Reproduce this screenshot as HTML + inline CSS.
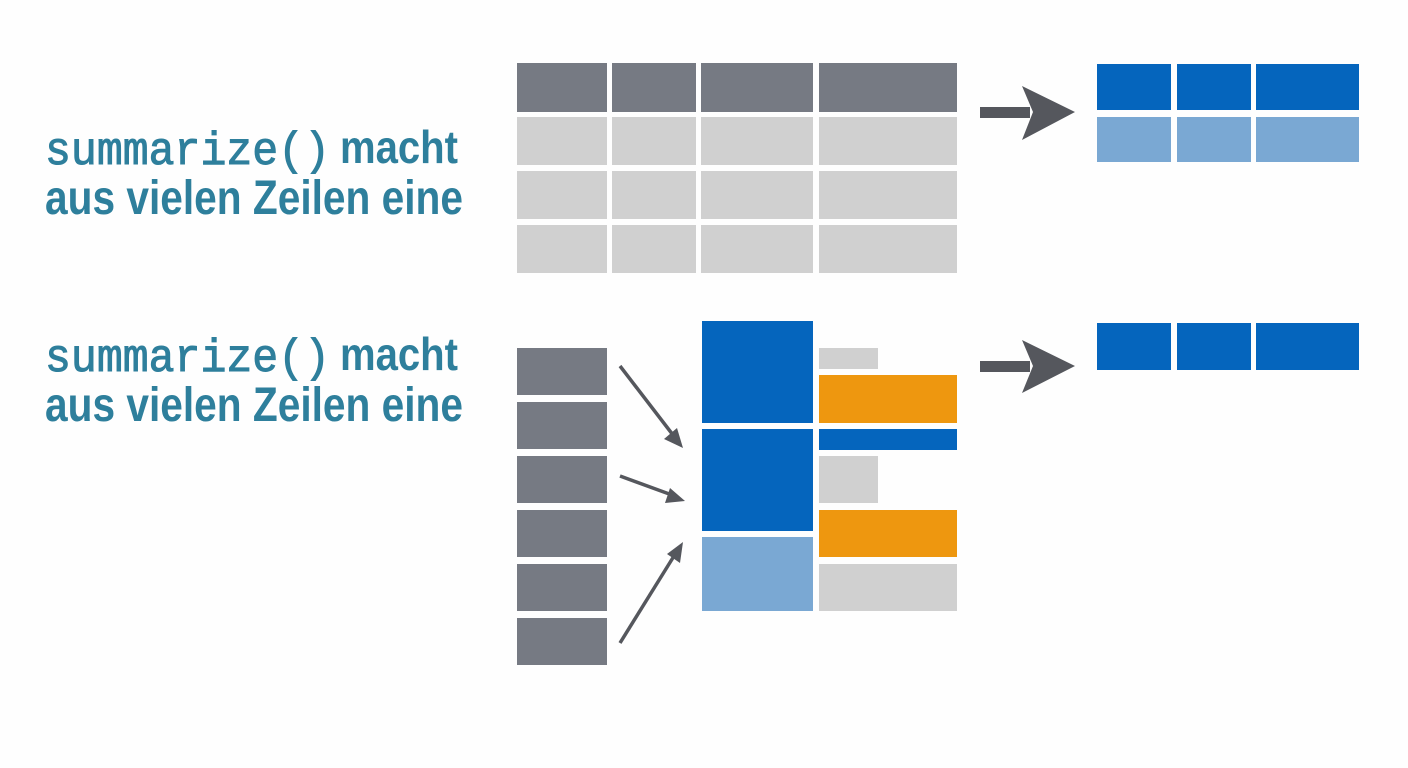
<!DOCTYPE html>
<html><head><meta charset="utf-8"><style>html,body{margin:0;padding:0;background:#fff}svg{display:block}</style></head>
<body>
<svg width="1408" height="768" viewBox="0 0 1408 768" xmlns="http://www.w3.org/2000/svg">
<rect width="1408" height="768" fill="#fefefe"/>
<g fill="#2e7f9c">
<text x="45" y="164" font-family="Liberation Mono, monospace" font-size="46" stroke="#2e7f9c" stroke-width="1" textLength="285" lengthAdjust="spacingAndGlyphs">summarize()</text>
<text x="340" y="163" font-family="Liberation Sans, sans-serif" font-weight="bold" font-size="46" textLength="118" lengthAdjust="spacingAndGlyphs">macht</text>
<text x="45" y="214" font-family="Liberation Sans, sans-serif" font-weight="bold" font-size="48" textLength="418" lengthAdjust="spacingAndGlyphs">aus vielen Zeilen eine</text>
<text x="45" y="371" font-family="Liberation Mono, monospace" font-size="46" stroke="#2e7f9c" stroke-width="1" textLength="285" lengthAdjust="spacingAndGlyphs">summarize()</text>
<text x="340" y="370" font-family="Liberation Sans, sans-serif" font-weight="bold" font-size="46" textLength="118" lengthAdjust="spacingAndGlyphs">macht</text>
<text x="45" y="421" font-family="Liberation Sans, sans-serif" font-weight="bold" font-size="48" textLength="418" lengthAdjust="spacingAndGlyphs">aus vielen Zeilen eine</text>
</g>
<g fill="#767a83">
<rect x="517" y="63" width="90" height="49"/><rect x="612" y="63" width="84" height="49"/><rect x="701" y="63" width="112" height="49"/><rect x="819" y="63" width="138" height="49"/>
</g>
<g fill="#d0d0d0">
<rect x="517" y="117" width="90" height="48"/><rect x="612" y="117" width="84" height="48"/><rect x="701" y="117" width="112" height="48"/><rect x="819" y="117" width="138" height="48"/>
<rect x="517" y="171" width="90" height="48"/><rect x="612" y="171" width="84" height="48"/><rect x="701" y="171" width="112" height="48"/><rect x="819" y="171" width="138" height="48"/>
<rect x="517" y="225" width="90" height="48"/><rect x="612" y="225" width="84" height="48"/><rect x="701" y="225" width="112" height="48"/><rect x="819" y="225" width="138" height="48"/>
</g>
<g fill="#55575d">
<rect x="980" y="107" width="50" height="11"/><polygon points="1022,86 1075,112 1022,140 1033,112"/>
<rect x="980" y="361" width="50" height="11"/><polygon points="1022,340 1075,366 1022,393 1033,366"/>
</g>
<g fill="#0565bd">
<rect x="1097" y="64" width="74" height="46"/><rect x="1177" y="64" width="74" height="46"/><rect x="1256" y="64" width="103" height="46"/>
<rect x="1097" y="323" width="74" height="47"/><rect x="1177" y="323" width="74" height="47"/><rect x="1256" y="323" width="103" height="47"/>
</g>
<g fill="#7aa8d3">
<rect x="1097" y="117" width="74" height="45"/><rect x="1177" y="117" width="74" height="45"/><rect x="1256" y="117" width="103" height="45"/>
</g>
<g fill="#767a83">
<rect x="517" y="348" width="90" height="47"/><rect x="517" y="402" width="90" height="47"/><rect x="517" y="456" width="90" height="47"/>
<rect x="517" y="510" width="90" height="47"/><rect x="517" y="564" width="90" height="47"/><rect x="517" y="618" width="90" height="47"/>
</g>
<rect x="702" y="321" width="111" height="102" fill="#0565bd"/>
<rect x="702" y="429" width="111" height="102" fill="#0565bd"/>
<rect x="702" y="537" width="111" height="74" fill="#7aa8d3"/>
<rect x="819" y="348" width="59" height="21" fill="#d0d0d0"/>
<rect x="819" y="375" width="138" height="48" fill="#ee970f"/>
<rect x="819" y="429" width="138" height="21" fill="#0565bd"/>
<rect x="819" y="456" width="59" height="47" fill="#d0d0d0"/>
<rect x="819" y="510" width="138" height="47" fill="#ee970f"/>
<rect x="819" y="564" width="138" height="47" fill="#d0d0d0"/>
<g stroke="#55575d" stroke-width="3.5" fill="none">
<line x1="620" y1="366" x2="673" y2="435"/>
<line x1="620" y1="476" x2="672" y2="495"/>
<line x1="620" y1="643" x2="674" y2="556"/>
</g>
<g fill="#55575d">
<polygon points="683,448 664,439 677,428"/>
<polygon points="685,501 665,503 670,488"/>
<polygon points="683,542 680,563 667,554"/>
</g>
</svg>
</body></html>
